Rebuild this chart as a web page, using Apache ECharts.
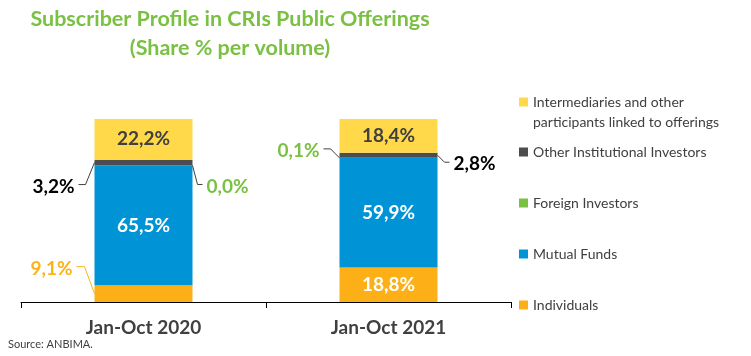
<!DOCTYPE html>
<html>
<head>
<meta charset="utf-8">
<script src="https://cdn.jsdelivr.net/npm/echarts@6/dist/echarts.min.js"></script>
<style>
html,body{margin:0;padding:0;background:#fff;}
#chart{width:751px;height:356px;}
</style>
</head>
<body>
<div id="chart"></div>
<script>
// ---- Data ----
const categories = ['Jan-Oct 2020', 'Jan-Oct 2021'];
const seriesNames = [
  'Individuals',
  'Mutual Funds',
  'Foreign Investors',
  'Other Institutional Investors',
  'Intermediaries and other participants linked to offerings'
];
const individuals = [9.1, 18.8];
const mutualFunds = [65.5, 59.9];
const foreignInvestors = [0.0, 0.1];
const otherInstitutional = [3.2, 2.8];
const intermediaries = [22.2, 18.4];
const titleText = 'Subscriber Profile in CRIs Public Offerings\n(Share % per volume)';
const sourceText = 'Source: ANBIMA.';

const seriesValues = [individuals, mutualFunds, foreignInvestors, otherInstitutional, intermediaries];
const colors = ['#FCAF17', '#0094D6', '#7AC143', '#4D4D4F', '#FFD94A'];
const insideLabelColors = ['#FFFFFF', '#FFFFFF', '#FFFFFF', '#FFFFFF', '#404040'];

// callout styling (which segments get an outside label, and leader geometry in px)
const callouts = [
  {s: 3, cat: 0, side: -1, dx: 9, dy: 22, len: 7, color: '#000000', line: '#404040'},
  {s: 2, cat: 0, side: 1, dx: 5, dy: 19, len: 5, color: '#7AC143', line: '#404040'},
  {s: 0, cat: 0, side: -1, dx: 10, dy: -27, len: 8, color: '#FCB316', line: '#FCB316'},
  {s: 2, cat: 1, side: -1, dx: 9, dy: -9, len: 7, color: '#7AC143', line: '#404040'},
  {s: 3, cat: 1, side: 1, dx: 7, dy: 7, len: 5, color: '#000000', line: '#404040'}
];

const fmt = v => v.toFixed(1).replace('.', ',') + '%';
const isCallout = (s, c) => callouts.some(o => o.s === s && o.cat === c);
const FONT = 'Lato, "Open Sans", sans-serif';
const barRatio = 0.4;
const LABEL_SIZE = 19;

const barSeries = seriesNames.map((name, s) => ({
  name: name,
  type: 'bar',
  stack: 'total',
  barWidth: (barRatio * 100) + '%',
  itemStyle: {color: colors[s]},
  label: {
    show: true,
    position: 'inside',
    formatter: p => fmt(p.value),
    color: insideLabelColors[s],
    fontFamily: FONT,
    fontWeight: 'bold',
    fontSize: LABEL_SIZE
  },
  emphasis: {disabled: true},
  data: seriesValues[s].map((v, c) => ({value: v, label: {show: !isCallout(s, c)}}))
}));

const calloutSeries = {
  type: 'custom',
  silent: true,
  z: 10,
  data: callouts.map(o => [o.cat, 0]),
  renderItem: function (params, api) {
    const o = callouts[params.dataIndex];
    let base = 0;
    for (let k = 0; k < o.s; k++) base += seriesValues[k][o.cat];
    const v = seriesValues[o.s][o.cat];
    const pt = api.coord([o.cat, base + v / 2]);
    const halfW = api.size([1, 0])[0] * barRatio / 2;
    const ax = pt[0] + o.side * halfW, ay = pt[1];
    const ex = ax + o.side * o.dx, ey = ay + o.dy;
    const fx = ex + o.side * o.len;
    return {
      type: 'group',
      children: [
        {type: 'polyline', shape: {points: [[ax, ay], [ex, ey], [fx, ey]]},
         style: {stroke: o.line, lineWidth: 1, fill: null}},
        {type: 'text', style: {
          x: fx + o.side * 4, y: ey + 2, text: fmt(v),
          align: o.side < 0 ? 'right' : 'left', verticalAlign: 'middle',
          fill: o.color, font: 'bold ' + LABEL_SIZE + 'px ' + FONT
        }}
      ]
    };
  }
};

const chart = echarts.init(document.getElementById('chart'), null, {renderer: 'canvas'});
chart.setOption({
  animation: false,
  backgroundColor: '#ffffff',
  title: [
    {text: titleText, left: 225, top: 0, textAlign: 'center',
     textStyle: {color: '#7AC143', fontFamily: FONT, fontWeight: 'bold', fontSize: 21.5, lineHeight: 29}},
    {text: sourceText, left: 8, top: 339, padding: 0,
     textStyle: {color: '#404040', fontFamily: FONT, fontWeight: 'normal', fontSize: 11}}
  ],
  legend: [
    {
      orient: 'vertical', left: 519, top: 72, padding: 0,
      itemWidth: 9, itemHeight: 9, icon: 'rect',
      selectedMode: false,
      data: [seriesNames[4]],
      formatter: () => '\nIntermediaries and other\nparticipants linked to offerings',
      textStyle: {color: '#404040', fontFamily: FONT, fontSize: 14, lineHeight: 20}
    },
    {
      orient: 'vertical', left: 519, top: 142, padding: 0, itemGap: 31,
      itemWidth: 9, itemHeight: 9, icon: 'rect',
      selectedMode: false,
      data: [seriesNames[3], seriesNames[2], seriesNames[1], seriesNames[0]],
      textStyle: {color: '#404040', fontFamily: FONT, fontSize: 14, lineHeight: 20}
    }
  ],
  grid: {left: 21, right: 240, top: 119, bottom: 54},
  xAxis: {
    type: 'category',
    data: categories,
    axisLine: {lineStyle: {color: '#000000', width: 1}},
    axisTick: {show: true, length: 6, lineStyle: {color: '#000000'}},
    axisLabel: {color: '#404040', fontFamily: FONT, fontWeight: 'bold', fontSize: 19, margin: 16}
  },
  yAxis: {type: 'value', min: 0, max: 100, show: false, splitLine: {show: false}},
  series: barSeries.concat([calloutSeries])
});
</script>
</body>
</html>
